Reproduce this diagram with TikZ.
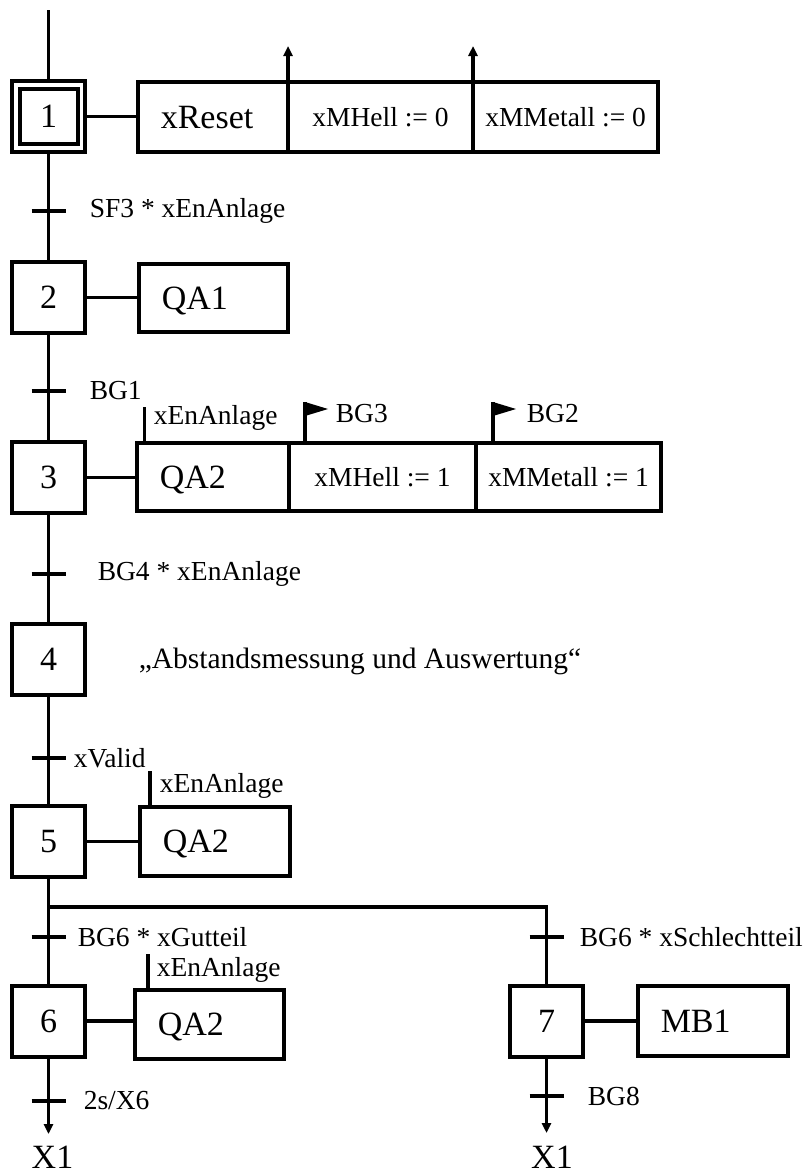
\documentclass[tikz,border=0pt]{standalone}
\usepackage{fontspec}
\setmainfont{Liberation Serif}
\usetikzlibrary{arrows.meta}

\newcommand\FontBig{\fontsize{34pt}{38pt}\selectfont}
\newcommand\FontLab{\fontsize{27.5pt}{30pt}\selectfont}
\newcommand\FontNote{\fontsize{29.5pt}{32pt}\selectfont}

\begin{document}
\begin{tikzpicture}[x=1pt, y=-1pt, line width=3.6pt,
  stepbox/.style={draw, line width=4pt, minimum width=73pt, minimum height=71pt,
                  inner sep=0pt, outer sep=0pt, font=\FontBig,
                  text height=22.4pt, text depth=0pt},
  cell/.style={draw, line width=4pt, inner sep=0pt, outer sep=0pt,
               minimum width=#1, align=center, font=\FontLab,
               text height=18.2pt, text depth=0pt},
  firstcell/.style={draw, line width=4pt, inner ysep=0pt, inner xsep=23pt,
                    outer sep=0pt, align=left, font=\FontBig,
                    text height=22.4pt, text depth=0pt},
  lab/.style={font=\FontLab, inner sep=0pt, anchor=west},
  thinline/.style={line width=3.2pt},
  arr/.style={thinline, -{Triangle[length=10pt,width=9pt]}},
  tick/.style={line width=3.6pt},
]
\useasboundingbox (0,0) rectangle (806,1175);

% ---- steps
\node[stepbox] (s1) at (48.5,116.5) {};
\node[stepbox, minimum width=58pt, minimum height=55pt] (s1i) at (48.5,116.5) {1};
\node[stepbox] (s2) at (48.5,297.5) {2};
\node[stepbox] (s3) at (48.5,477.5) {3};
\node[stepbox] (s4) at (48.5,659) {4};
\node[stepbox] (s5) at (48.5,841.5) {5};
\node[stepbox] (s6) at (48.5,1021) {6};
\node[stepbox] (s7) at (546.5,1021) {7};

% ---- actions of step 1
\node[firstcell, text width=104.25pt, minimum height=70pt] (a1a) at (212.9,117) {xReset};
\node[cell=185pt, minimum height=70pt] (a1b) at (380.5,117) {xMHell := 0};
\node[cell=185.25pt, minimum height=70pt] (a1c) at (565.6,117) {xMMetall := 0};
\draw (s1.east) -- (s1.east -| a1a.west);
\draw[arr] (a1a.north east) -- ++(0,-36);
\draw[arr] (a1b.north east) -- ++(0,-36);

% ---- action of step 2
\node[firstcell, text width=103.5pt, minimum height=68pt] (a2) at (213.5,298) {QA1};
\draw (s2.east) -- (s2.east -| a2.west);

% ---- actions of step 3
\node[firstcell, text width=106.25pt, minimum height=68pt] (a3a) at (212.9,477) {QA2};
\node[cell=187pt, minimum height=68pt] (a3b) at (382.5,477) {xMHell := 1};
\node[cell=185.25pt, minimum height=68pt] (a3c) at (568.6,477) {xMMetall := 1};
\draw (s3.east) -- (s3.east -| a3a.west);
% condition on QA2
\path (a3a.north west) ++(8,0) coordinate (q3);
\draw[thinline] (q3) -- ++(0,-36);
\node[lab] at (152,418) {xEnAnlage};
% event flags
\path (a3a.north east) ++(16,0) coordinate (f3);
\draw[thinline] (f3) -- ++(0,-41) coordinate (f3t);
\fill (f3t) -- ++(23,7) -- ++(-23,7) -- cycle;
\node[lab] at (334,414) {BG3};
\path (a3b.north east) ++(17,0) coordinate (f2);
\draw[thinline] (f2) -- ++(0,-41) coordinate (f2t);
\fill (f2t) -- ++(23,7) -- ++(-23,7) -- cycle;
\node[lab] at (525,414) {BG2};

% ---- step 4 comment
\node[anchor=west, inner sep=0pt, font=\FontNote] (n4) at (137,661) {„Abstandsmessung und Auswertung“};

% ---- action of step 5
\node[firstcell, text width=104.5pt, minimum height=69pt] (a5) at (215,841.5) {QA2};
\draw (s5.east) -- (s5.east -| a5.west);
\path (a5.north west) ++(10.25,0) coordinate (q5);
\draw[thinline] (q5) -- ++(0,-36);
\node[lab] at (158,786) {xEnAnlage};

% ---- action of step 6
\node[firstcell, text width=103.5pt, minimum height=69pt] (a6) at (209.5,1024.5) {QA2};
\draw (s6.east) -- (s6.east -| a6.west);
\path (a6.north west) ++(13.25,0) coordinate (q6);
\draw[thinline] (q6) -- ++(0,-36);
\node[lab] at (155,970) {xEnAnlage};

% ---- action of step 7
\node[firstcell, text width=104.5pt, minimum height=70pt] (a7) at (713,1021) {MB1};
\draw (s7.east) -- (s7.east -| a7.west);

% ---- sequence links
\coordinate (top) at (48.5,10);
\draw (top) -- (s1.north);
\draw (s1.south) -- (s2.north);
\draw (s2.south) -- (s3.north);
\draw (s3.south) -- (s4.north);
\draw (s4.south) -- (s5.north);
\draw (s5.south) -- (s6.north);
\coordinate (br) at (48.5,907);
\draw (br) -- (br -| s7.north) -- (s7.north);

\coordinate (e6) at (48.5,1134);
\coordinate (e7) at (546.5,1133);
\draw[arr, line width=3.6pt] (s6.south) -- (e6);
\draw[arr, line width=3.6pt] (s7.south) -- (e7);
\node[font=\FontBig, inner sep=0pt, text height=22.4pt, text depth=0pt] (x1a) at (52.5,1157) {X1};
\node[font=\FontBig, inner sep=0pt, text height=22.4pt, text depth=0pt] (x1b) at (552,1157) {X1};

% ---- transitions
\coordinate (t1) at (48.5,211);
\coordinate (t2) at (48.5,391);
\coordinate (t3) at (48.5,574);
\coordinate (t4) at (48.5,758);
\coordinate (t5) at (48.5,937);
\coordinate (t6) at (546.5,937);
\coordinate (t7) at (48.5,1101);
\coordinate (t8) at (546.5,1096);
\foreach \t in {t1,t2,t3,t4,t5,t6,t7,t8}
  \draw[tick] (\t) ++(-17,0) -- ++(34,0);
\node[lab] at (88,211) {SF3 * xEnAnlage};
\node[lab] at (88,391) {BG1};
\node[lab] at (96,574) {BG4 * xEnAnlage};
\node[lab] at (72,758) {xValid};
\node[lab] at (76,937) {BG6 * xGutteil};
\node[lab] at (578,937) {BG6 * xSchlechtteil};
\node[lab] at (82,1101) {2s/X6};
\node[lab] at (586,1096) {BG8};
\end{tikzpicture}
\end{document}
